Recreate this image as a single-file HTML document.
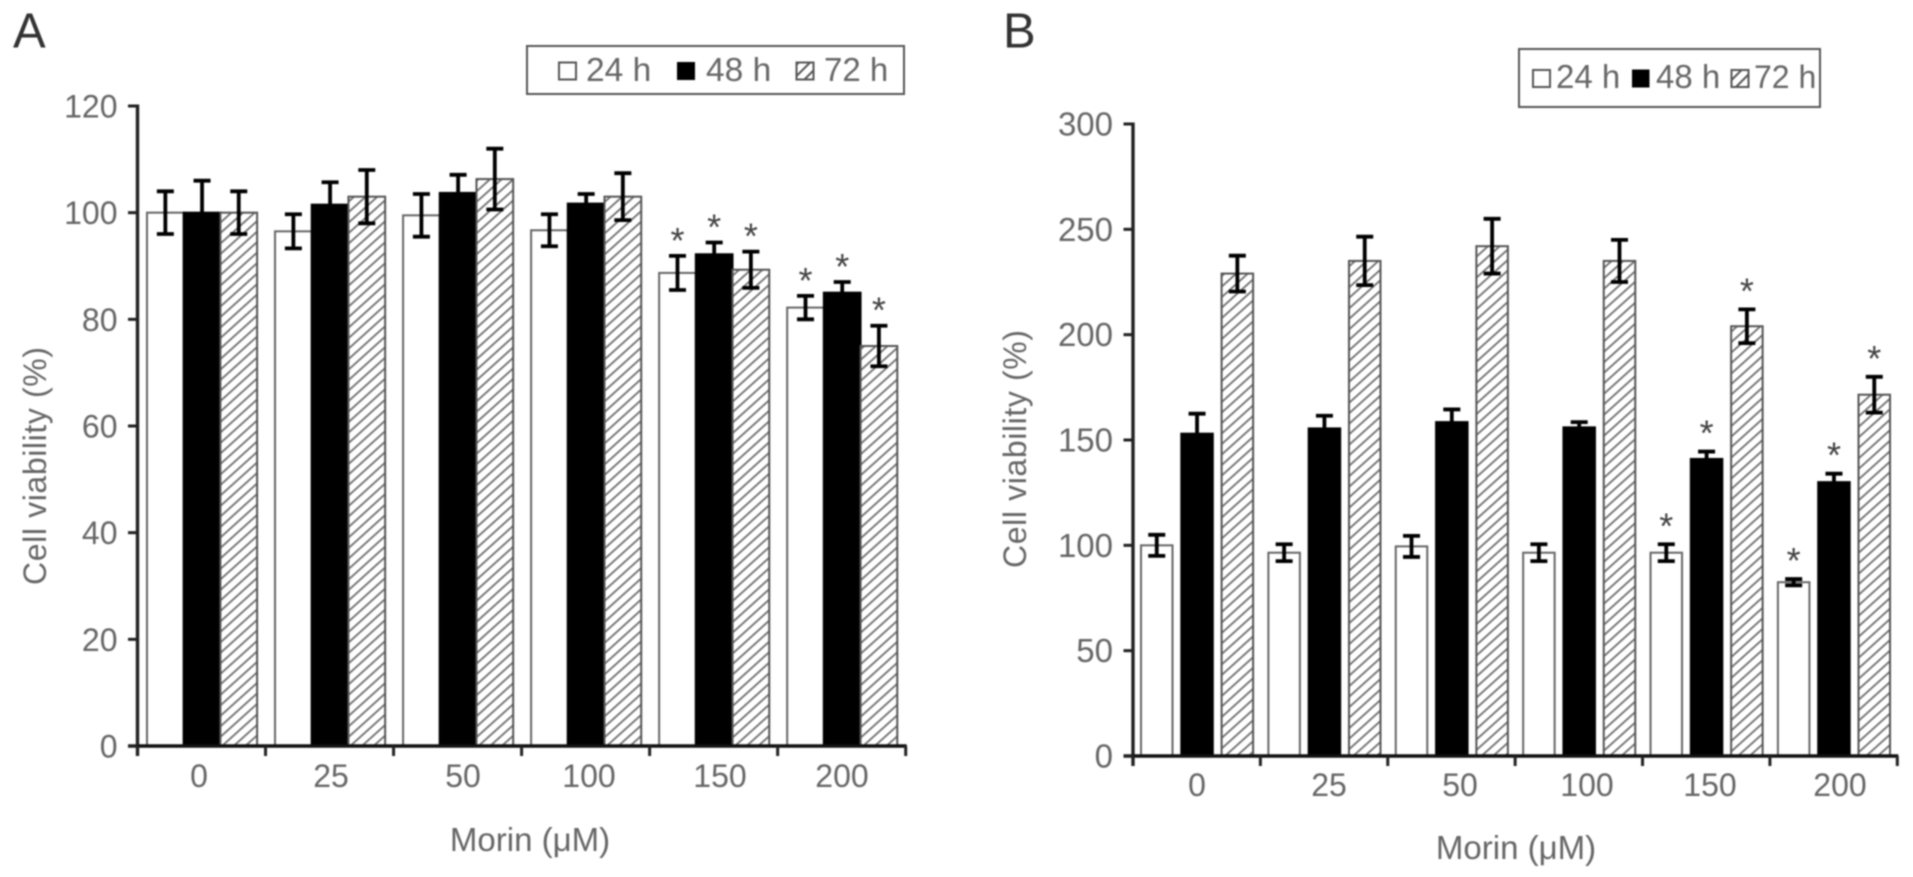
<!DOCTYPE html>
<html lang="en">
<head>
<meta charset="utf-8">
<title>Cell viability with Morin</title>
<style>
html,body{margin:0;padding:0;background:#fff;width:1913px;height:877px;overflow:hidden}
svg{display:block;filter:blur(0.7px)}
text{font-family:"Liberation Sans",Arial,sans-serif;fill:#666}
</style>
</head>
<body>
<svg id="figure" xmlns="http://www.w3.org/2000/svg" width="1913" height="877" viewBox="0 0 1913 877">
  <defs>
    <pattern id="hatch" patternUnits="userSpaceOnUse" width="8" height="7.8" patternTransform="rotate(-42)">
      <rect width="8" height="7.8" fill="#fff"/>
      <rect y="0" width="8" height="1.8" fill="#6e6e6e"/>
    </pattern>
    <pattern id="hatch-small" patternUnits="userSpaceOnUse" width="8" height="8" patternTransform="rotate(-45)">
      <rect width="8" height="8" fill="#fff"/>
      <rect y="0" width="8" height="2" fill="#555"/>
    </pattern>
  </defs>

  <text x="13" y="47.5" font-size="49" style="fill:#333">A</text>
  <text x="1003" y="47.5" font-size="49" style="fill:#333">B</text>

  <g>
    <rect x="527" y="46" width="377" height="48" fill="#fff" stroke="#555" stroke-width="2"/>
    <rect x="559" y="62.5" width="17" height="17" fill="#fff" stroke="#555" stroke-width="2"/>
    <text x="586" y="81" font-size="33.5">24 h</text>
    <rect x="677" y="62" width="18" height="18" fill="#000"/>
    <text x="706" y="81" font-size="33.5">48 h</text>
    <rect x="796.5" y="62.5" width="17" height="17" fill="url(#hatch-small)" stroke="#555" stroke-width="2"/>
    <text x="824" y="81" font-size="33">72 h</text>
  </g>

  <g>
    <rect x="1519" y="49" width="301" height="58" fill="#fff" stroke="#555" stroke-width="2"/>
    <rect x="1533" y="70" width="17" height="17" fill="#fff" stroke="#555" stroke-width="2"/>
    <text x="1556" y="88" font-size="33">24 h</text>
    <rect x="1632" y="69.5" width="17.5" height="18" fill="#000"/>
    <text x="1656" y="88" font-size="33">48 h</text>
    <rect x="1731.5" y="70" width="17" height="17" fill="url(#hatch-small)" stroke="#555" stroke-width="2"/>
    <text x="1754" y="88" font-size="32">72 h</text>
  </g>

  <g font-size="32" text-anchor="middle">
    <text x="199" y="787">0</text>
    <text x="331" y="787">25</text>
    <text x="463" y="787">50</text>
    <text x="589" y="787">100</text>
    <text x="720" y="787">150</text>
    <text x="842" y="787">200</text>
  </g>
  <g font-size="32" text-anchor="middle">
    <text x="1197" y="796">0</text>
    <text x="1329" y="796">25</text>
    <text x="1460" y="796">50</text>
    <text x="1587" y="796">100</text>
    <text x="1710" y="796">150</text>
    <text x="1840" y="796">200</text>
  </g>

  <text x="530" y="851" font-size="33" text-anchor="middle">Morin (μM)</text>
  <text x="1516" y="859" font-size="33" text-anchor="middle">Morin (μM)</text>
  <text transform="translate(46 466) rotate(-90)" font-size="32" text-anchor="middle" textLength="238" lengthAdjust="spacing">Cell viability (%)</text>
  <text transform="translate(1026 449) rotate(-90)" font-size="32" text-anchor="middle" textLength="238" lengthAdjust="spacing">Cell viability (%)</text>

  <g id="plot-a"></g>
  <g id="plot-b"></g>
</svg>

<script>
const categories = ['0', '25', '50', '100', '150', '200'];
const seriesNames = ['24h', '48h', '72h'];

const yTicksA = [0, 20, 40, 60, 80, 100, 120];
const valuesA24 = [100, 96.5, 99.5, 96.7, 88.7, 82.2];
const valuesA48 = [100, 101.5, 103.7, 101.7, 92.2, 85];
const valuesA72 = [100, 103, 106.3, 103, 89.3, 75];
const errorsA24 = [4, 3.2, 4, 3, 3.2, 2.2];
const errorsA48 = [6, 4.2, 3.4, 1.8, 2.2, 2];
const errorsA72 = [4, 5, 5.7, 4.4, 3.4, 3.8];
const starredA24 = [0, 0, 0, 0, 1, 1];
const starredA48 = [0, 0, 0, 0, 1, 1];
const starredA72 = [0, 0, 0, 0, 1, 1];

const yTicksB = [0, 50, 100, 150, 200, 250, 300];
const valuesB24 = [100, 96.5, 99.5, 96.5, 96.5, 82.5];
const valuesB48 = [153, 155.5, 158.5, 156, 141, 130];
const valuesB72 = [229, 235, 242, 235, 204, 171.5];
const errorsB24 = [5, 4, 5, 4, 4, 1.5];
const errorsB48 = [9.5, 6, 6, 2.5, 3.5, 4];
const errorsB72 = [8.5, 11.5, 13, 10, 8, 8.5];
const starredB24 = [0, 0, 0, 0, 1, 1];
const starredB48 = [0, 0, 0, 0, 1, 1];
const starredB72 = [0, 0, 0, 0, 1, 1];

const SVG_NS = 'http://www.w3.org/2000/svg';

function make(parent, tag, attrs) {
  const node = document.createElementNS(SVG_NS, tag);
  for (const key in attrs) node.setAttribute(key, attrs[key]);
  parent.appendChild(node);
  return node;
}

function drawPanel(cfg) {
  const root = document.getElementById(cfg.rootId);
  const yOf = function (v) { return cfg.y0 - (v - cfg.yMin) / (cfg.yMax - cfg.yMin) * (cfg.y0 - cfg.yTop); };
  const groupWidth = (cfg.xRight - cfg.xLeft) / categories.length;
  const barX = function (g, s) { return cfg.xLeft + g * groupWidth + cfg.barStart + s * cfg.barPitch; };

  const fills = ['#fff', '#000', 'url(#hatch)'];
  const strokes = ['#666', '#000', '#555'];

  seriesNames.forEach(function (name, s) {
    cfg.values[s].forEach(function (v, g) {
      const bar = make(root, 'rect', {
        x: barX(g, s), y: yOf(v), width: cfg.barWidth, height: cfg.y0 - yOf(v),
        fill: fills[s], stroke: strokes[s], 'stroke-width': 2
      });
      
      
    });
  });

  seriesNames.forEach(function (name, s) {
    cfg.values[s].forEach(function (v, g) {
      const cx = barX(g, s) + cfg.barWidth / 2;
      const top = yOf(v + cfg.errors[s][g]);
      const bottom = yOf(v - cfg.errors[s][g]);
      const err = make(root, 'path', {
        d: 'M' + (cx - 8.5) + ' ' + top + 'H' + (cx + 8.5) +
           'M' + cx + ' ' + top + 'V' + bottom +
           'M' + (cx - 8.5) + ' ' + bottom + 'H' + (cx + 8.5),
        fill: 'none', stroke: '#000', 'stroke-width': 3.8
      });
      
      

      if (cfg.starred[s][g]) {
        const star = make(root, 'text', {
          x: cx, y: top - cfg.starGap + 21, 'font-size': 36, 'text-anchor': 'middle', style: 'fill:#444'
        });
        star.textContent = '*';
        
        
      }
    });
  });

  const yAxis = make(root, 'line', {
    x1: cfg.xLeft, x2: cfg.xLeft, y1: cfg.yTop - 1.5, y2: cfg.y0 + 10, stroke: '#222', 'stroke-width': 3.4
  });
  
  

  const xAxis = make(root, 'line', {
    x1: cfg.xLeft - 9.5, x2: cfg.xRight + 1, y1: cfg.y0, y2: cfg.y0, stroke: '#111', 'stroke-width': 3.4
  });
  
  

  cfg.yTicks.forEach(function (t) {
    const tick = make(root, 'line', {
      x1: cfg.xLeft - 9.5, x2: cfg.xLeft, y1: yOf(t), y2: yOf(t), stroke: '#222', 'stroke-width': 3
    });
    
    

    const label = make(root, 'text', {
      x: cfg.xLeft - 20, y: yOf(t) + 11.5, 'font-size': cfg.tickFont, 'text-anchor': 'end'
    });
    label.textContent = t;
    
    
  });

  for (let g = 0; g <= categories.length; g++) {
    const x = cfg.xLeft + g * groupWidth;
    const xTick = make(root, 'line', {
      x1: x, x2: x, y1: cfg.y0, y2: cfg.y0 + 10, stroke: '#222', 'stroke-width': 3
    });
    
    
  }
}

drawPanel({
  id: 'a', rootId: 'plot-a',
  xLeft: 137.5, xRight: 905.7, y0: 746, yTop: 106, yMin: 0, yMax: 120,
  barStart: 9.5, barPitch: 36.7, barWidth: 36.7, tickFont: 32, starGap: 24,
  yTicks: yTicksA,
  values: [valuesA24, valuesA48, valuesA72],
  errors: [errorsA24, errorsA48, errorsA72],
  starred: [starredA24, starredA48, starredA72]
});

drawPanel({
  id: 'b', rootId: 'plot-b',
  xLeft: 1133, xRight: 1897.3, y0: 756, yTop: 124, yMin: 0, yMax: 300,
  barStart: 8, barPitch: 40.3, barWidth: 31.5, tickFont: 33, starGap: 27,
  yTicks: yTicksB,
  values: [valuesB24, valuesB48, valuesB72],
  errors: [errorsB24, errorsB48, errorsB72],
  starred: [starredB24, starredB48, starredB72]
});
</script>
</body>
</html>
